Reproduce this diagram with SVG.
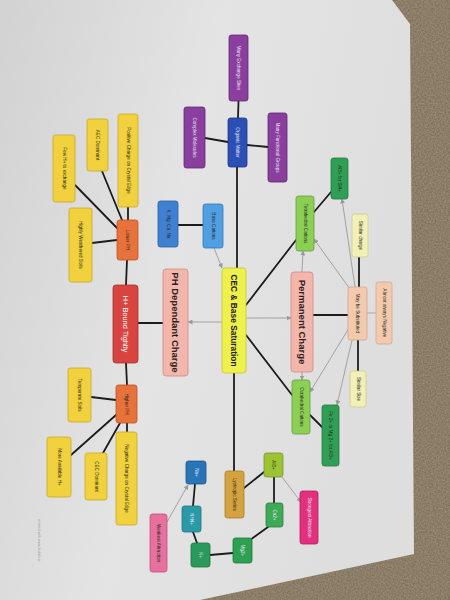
<svg xmlns="http://www.w3.org/2000/svg" width="450" height="600" viewBox="0 0 450 600">
<defs>
<style>
.n rect{stroke-width:0.8}
.t{font-family:"Liberation Sans",Arial,sans-serif;font-size:4.6px;fill:#2a2a1a;text-anchor:middle;dominant-baseline:central}
.tl{fill:#e6e6f2}
.big{font-size:9.5px;font-weight:bold;fill:#2a2020}
.mid{font-size:8.4px;font-weight:bold;fill:#222}
.hb{font-size:7.4px;fill:#fff}
.dk{stroke:#1c1c1c;stroke-width:1.8;stroke-linecap:round;fill:none}
.ar{stroke:#9a9a9a;stroke-width:0.9;fill:none;marker-end:url(#ah)}
.gl{stroke:#a0a0a0;stroke-width:0.9;fill:none}
.pu{fill:#8a3f9f;stroke:#5c2a70}
.yl{fill:#f1d13d;stroke:#c9a82a}
.or{fill:#e8723b;stroke:#b85428}
.pk{fill:#f2b6ad;stroke:#cf8c84}
.lg{fill:#8ccf55;stroke:#62a03a}
.dg{fill:#2f9f55;stroke:#217840}
.py{fill:#f2f0b6;stroke:#cfcc8c}
.pe{fill:#f4caaf;stroke:#d4a48a}
</style>
<marker id="ah" viewBox="0 0 10 10" refX="9" refY="5" markerWidth="5" markerHeight="5" orient="auto" markerUnits="userSpaceOnUse">
<path d="M0,0 L10,5 L0,10 z" fill="#9a9a9a"/>
</marker>
<linearGradient id="paper" x1="0" y1="0" x2="1" y2="0.3">
<stop offset="0" stop-color="#d2d2d2"/>
<stop offset="0.5" stop-color="#e4e4e4"/>
<stop offset="1" stop-color="#dedede"/>
</linearGradient>
<filter id="carpet" x="0" y="0" width="100%" height="100%">
<feTurbulence type="fractalNoise" baseFrequency="0.6" numOctaves="2" seed="3"/>
<feColorMatrix values="0 0 0 0 0.47  0 0 0 0 0.41  0 0 0 0 0.32  0 0 0 1.2 -0.1"/>
</filter>
</defs>
<rect width="450" height="600" fill="#7a6a52"/>
<rect width="450" height="600" filter="url(#carpet)" opacity="0.6"/>
<polygon points="0,0 392,0 410,24 414,554 200,600 0,600" fill="url(#paper)"/>
<text class="t" transform="rotate(90 39 540)" x="39" y="540" style="font-size:3.6px;fill:#9a9a9a">created with www.bubbl.us</text>

<g id="connectors">
<line class="dk" x1="238" y1="118" x2="238.5" y2="101"/>
<line class="dk" x1="228" y1="142" x2="205" y2="138"/>
<line class="dk" x1="247" y1="145" x2="268" y2="147"/>
<line class="dk" x1="237" y1="167" x2="237" y2="268"/>
<line class="dk" x1="203" y1="225" x2="178" y2="225"/>
<line class="dk" x1="246" y1="305" x2="296" y2="240"/>
<line class="dk" x1="246" y1="335" x2="292" y2="395"/>
<line class="dk" x1="234" y1="373" x2="234" y2="471"/>
<line class="dk" x1="314" y1="212" x2="331" y2="192"/>
<line class="dk" x1="313" y1="315" x2="348" y2="315"/>
<line class="dk" x1="359" y1="287" x2="359" y2="257"/>
<line class="dk" x1="358" y1="340" x2="358" y2="371"/>
<line class="dk" x1="310" y1="415" x2="322" y2="427"/>
<line class="dk" x1="244" y1="488" x2="264" y2="472"/>
<line class="dk" x1="274" y1="477" x2="274" y2="503"/>
<line class="dk" x1="268" y1="527" x2="250" y2="540"/>
<line class="dk" x1="233" y1="553" x2="210" y2="555"/>
<line class="dk" x1="197" y1="543" x2="193" y2="532"/>
<line class="dk" x1="193" y1="506" x2="195" y2="484"/>
<line class="dk" x1="163" y1="323" x2="138" y2="323"/>
<line class="dk" x1="126" y1="285" x2="127" y2="260"/>
<line class="dk" x1="126" y1="363" x2="127" y2="385"/>
<line class="dk" x1="128" y1="220" x2="128" y2="207"/>
<line class="dk" x1="122" y1="220" x2="102" y2="171"/>
<line class="dk" x1="117" y1="228" x2="75" y2="185"/>
<line class="dk" x1="117" y1="240" x2="92" y2="243"/>
<line class="dk" x1="116" y1="400" x2="91" y2="397"/>
<line class="dk" x1="116" y1="415" x2="71" y2="455"/>
<line class="dk" x1="120" y1="423" x2="103" y2="453"/>
<line class="dk" x1="127" y1="423" x2="127" y2="432"/>
<line class="ar" x1="214" y1="248" x2="222" y2="268"/>
<line class="ar" x1="222" y1="322" x2="188" y2="322"/>
<line class="ar" x1="246" y1="318" x2="291" y2="318"/>
<line class="ar" x1="302" y1="272" x2="303" y2="251"/>
<line class="ar" x1="302" y1="372" x2="302" y2="380"/>
<line class="ar" x1="352" y1="292" x2="314" y2="239"/>
<line class="ar" x1="355" y1="287" x2="342" y2="199"/>
<line class="gl" x1="367" y1="313" x2="376" y2="313"/>
<line class="ar" x1="349" y1="328" x2="310" y2="392"/>
<line class="ar" x1="352" y1="340" x2="337" y2="405"/>
<line class="ar" x1="282" y1="477" x2="301" y2="502"/>
<line class="ar" x1="167" y1="522" x2="188" y2="485"/>
</g>

<g id="many-exchange-sites" class="n"><rect class="pu" x="229" y="35" width="19" height="66" rx="2.5"/><text class="t tl" x="238.5" y="68" transform="rotate(90 238.5 68)">Many Exchange Sites</text></g>
<g id="organic-matter" class="n"><rect x="228" y="118" width="19" height="49" rx="2.5" fill="#2b4fb5" stroke="#1c3684"/><text class="t tl" x="237.5" y="142.5" transform="rotate(90 237.5 142.5)">Organic Matter</text></g>
<g id="complex-molecules" class="n"><rect class="pu" x="184" y="107" width="21" height="61" rx="2.5"/><text class="t tl" x="194.5" y="137.5" transform="rotate(90 194.5 137.5)">Complex Molecules</text></g>
<g id="many-functional-groups" class="n"><rect class="pu" x="268" y="113" width="19" height="69" rx="2.5"/><text class="t tl" x="277.5" y="147.5" transform="rotate(90 277.5 147.5)">Many Functional Groups</text></g>
<g id="base-cations" class="n"><rect x="203" y="204" width="20" height="44" rx="2.5" fill="#4f9fe2" stroke="#2f78b8"/><text class="t" x="213" y="226" transform="rotate(90 213 226)">Base Cations</text></g>
<g id="k-mg-ca-na" class="n"><rect x="158" y="201" width="20" height="46" rx="2.5" fill="#4080d2" stroke="#285ca8"/><text class="t" x="168" y="224" transform="rotate(90 168 224)">K, Mg, Ca, Na</text></g>
<g id="cec" class="n"><rect x="222" y="268" width="24" height="105" rx="3" fill="#eef04c" stroke="#c6c832"/><text class="t mid" x="234" y="320.5" transform="rotate(90 234 320.5)">CEC &amp; Base Saturation</text></g>
<g id="ph-dependant-charge" class="n"><rect class="pk" x="163" y="269" width="25" height="107" rx="3"/><text class="t big" x="175.5" y="322.5" transform="rotate(90 175.5 322.5)">PH Dependant Charge</text></g>
<g id="permanent-charge" class="n"><rect class="pk" x="291" y="272" width="22" height="100" rx="3"/><text class="t big" x="302" y="322" transform="rotate(90 302 322)">Permanent Charge</text></g>
<g id="tetrahedral-cations" class="n"><rect class="lg" x="296" y="196" width="18" height="55" rx="2.5"/><text class="t" x="305" y="223.5" transform="rotate(90 305 223.5)">Tetrahedral Cations</text></g>
<g id="al-for-si" class="n"><rect class="dg" x="331" y="158" width="17" height="41" rx="2.5"/><text class="t" x="339.5" y="178.5" transform="rotate(90 339.5 178.5)">Al3+ for Si4+</text></g>
<g id="similar-charge" class="n"><rect class="py" x="352" y="214" width="16" height="43" rx="2.5"/><text class="t" x="360" y="235.5" transform="rotate(90 360 235.5)">Similar charge</text></g>
<g id="almost-always-negative" class="n"><rect class="pe" x="376" y="282" width="16" height="62" rx="2.5"/><text class="t" x="384" y="313" transform="rotate(90 384 313)">Almost always Negative</text></g>
<g id="may-be-substituted" class="n"><rect class="pe" x="348" y="287" width="19" height="53" rx="2.5"/><text class="t" x="357.5" y="313.5" transform="rotate(90 357.5 313.5)">May be Substituted</text></g>
<g id="similar-size" class="n"><rect class="py" x="350" y="371" width="16" height="36" rx="2.5"/><text class="t" x="358" y="389" transform="rotate(90 358 389)">Similar Size</text></g>
<g id="octahedral-cations" class="n"><rect class="lg" x="292" y="380" width="18" height="54" rx="2.5"/><text class="t" x="301" y="407" transform="rotate(90 301 407)">Octahedral Cations</text></g>
<g id="fe-mg-for-al" class="n"><rect class="dg" x="322" y="405" width="17" height="61" rx="2.5"/><text class="t" x="330.5" y="435.5" transform="rotate(90 330.5 435.5)">Fe 2+ or Mg 2+ for Al3+</text></g>
<g id="lyotropic-series" class="n"><rect x="225" y="471" width="19" height="47" rx="2.5" fill="#d4a23e" stroke="#a87c26"/><text class="t" x="234.5" y="494.5" transform="rotate(90 234.5 494.5)">Lyotropic Series</text></g>
<g id="al3" class="n"><rect x="264" y="453" width="19" height="24" rx="2.5" fill="#9dc233" stroke="#789626"/><text class="t" x="273.5" y="465" transform="rotate(90 273.5 465)">Al3+</text></g>
<g id="ca2" class="n"><rect x="266" y="503" width="17" height="24" rx="2.5" fill="#3eaa58" stroke="#2a8040"/><text class="t tl" x="274.5" y="515" transform="rotate(90 274.5 515)">Ca2+</text></g>
<g id="mg2" class="n"><rect x="233" y="538" width="19" height="25" rx="2.5" fill="#2ea052" stroke="#1f783a"/><text class="t tl" x="242.5" y="550.5" transform="rotate(90 242.5 550.5)">Mg2+</text></g>
<g id="k" class="n"><rect x="191" y="543" width="19" height="24" rx="2.5" fill="#2a9a5a" stroke="#1d7442"/><text class="t tl" x="200.5" y="555" transform="rotate(90 200.5 555)">K+</text></g>
<g id="nh4" class="n"><rect x="182" y="506" width="19" height="26" rx="2.5" fill="#2a9aa8" stroke="#1d7480"/><text class="t tl" x="191.5" y="519" transform="rotate(90 191.5 519)">NH4+</text></g>
<g id="na" class="n"><rect x="186" y="461" width="20" height="23" rx="2.5" fill="#2a74b8" stroke="#1c548a"/><text class="t tl" x="196" y="472.5" transform="rotate(90 196 472.5)">Na+</text></g>
<g id="strongest-attraction" class="n"><rect x="300" y="491" width="18" height="53" rx="2.5" fill="#e2307e" stroke="#b01e5e"/><text class="t tl" x="309" y="517.5" transform="rotate(90 309 517.5)">Strongest Attraction</text></g>
<g id="weakest-attraction" class="n"><rect x="150" y="514" width="17" height="58" rx="2.5" fill="#e8709f" stroke="#c04e7c"/><text class="t" x="158.5" y="543" transform="rotate(90 158.5 543)">Weakest Attraction</text></g>
<g id="h-bound-tightly" class="n"><rect x="113" y="285" width="25" height="78" rx="3" fill="#d8443f" stroke="#a8302c"/><text class="t hb" x="125.5" y="324" transform="rotate(90 125.5 324)">H+ Bound Tightly</text></g>
<g id="lower-ph" class="n"><rect class="or" x="117" y="220" width="21" height="40" rx="2.5"/><text class="t" x="127.5" y="240" transform="rotate(90 127.5 240)">Lower PH</text></g>
<g id="higher-ph" class="n"><rect class="or" x="116" y="385" width="21" height="38" rx="2.5"/><text class="t" x="126.5" y="404" transform="rotate(90 126.5 404)">Higher PH</text></g>
<g id="positive-charge" class="n"><rect class="yl" x="118" y="114" width="20" height="93" rx="2.5"/><text class="t" x="128" y="160.5" transform="rotate(90 128 160.5)">Positive Charge on Crystal Edge</text></g>
<g id="aec-dominant" class="n"><rect class="yl" x="87" y="119" width="21" height="52" rx="2.5"/><text class="t" x="97.5" y="145" transform="rotate(90 97.5 145)">AEC Dominant</text></g>
<g id="few-h" class="n"><rect class="yl" x="53" y="135" width="22" height="67" rx="2.5"/><text class="t" x="64" y="168.5" transform="rotate(90 64 168.5)">Few H+ to exchange</text></g>
<g id="highly-weathered" class="n"><rect class="yl" x="69" y="208" width="23" height="74" rx="2.5"/><text class="t" x="80.5" y="245" transform="rotate(90 80.5 245)">Highly Weathered Soils</text></g>
<g id="temperate-soils" class="n"><rect class="yl" x="68" y="368" width="23" height="54" rx="2.5"/><text class="t" x="79.5" y="395" transform="rotate(90 79.5 395)">Temperate Soils</text></g>
<g id="more-available-h" class="n"><rect class="yl" x="47" y="437" width="24" height="60" rx="2.5"/><text class="t" x="59" y="467" transform="rotate(90 59 467)">More Available H+</text></g>
<g id="cec-dominant" class="n"><rect class="yl" x="85" y="453" width="22" height="47" rx="2.5"/><text class="t" x="96" y="476.5" transform="rotate(90 96 476.5)">CEC Dominant</text></g>
<g id="negative-charge" class="n"><rect class="yl" x="116" y="432" width="21" height="93" rx="2.5"/><text class="t" x="126.5" y="478.5" transform="rotate(90 126.5 478.5)">Negative Charge on Crystal Edge</text></g>
</svg>
